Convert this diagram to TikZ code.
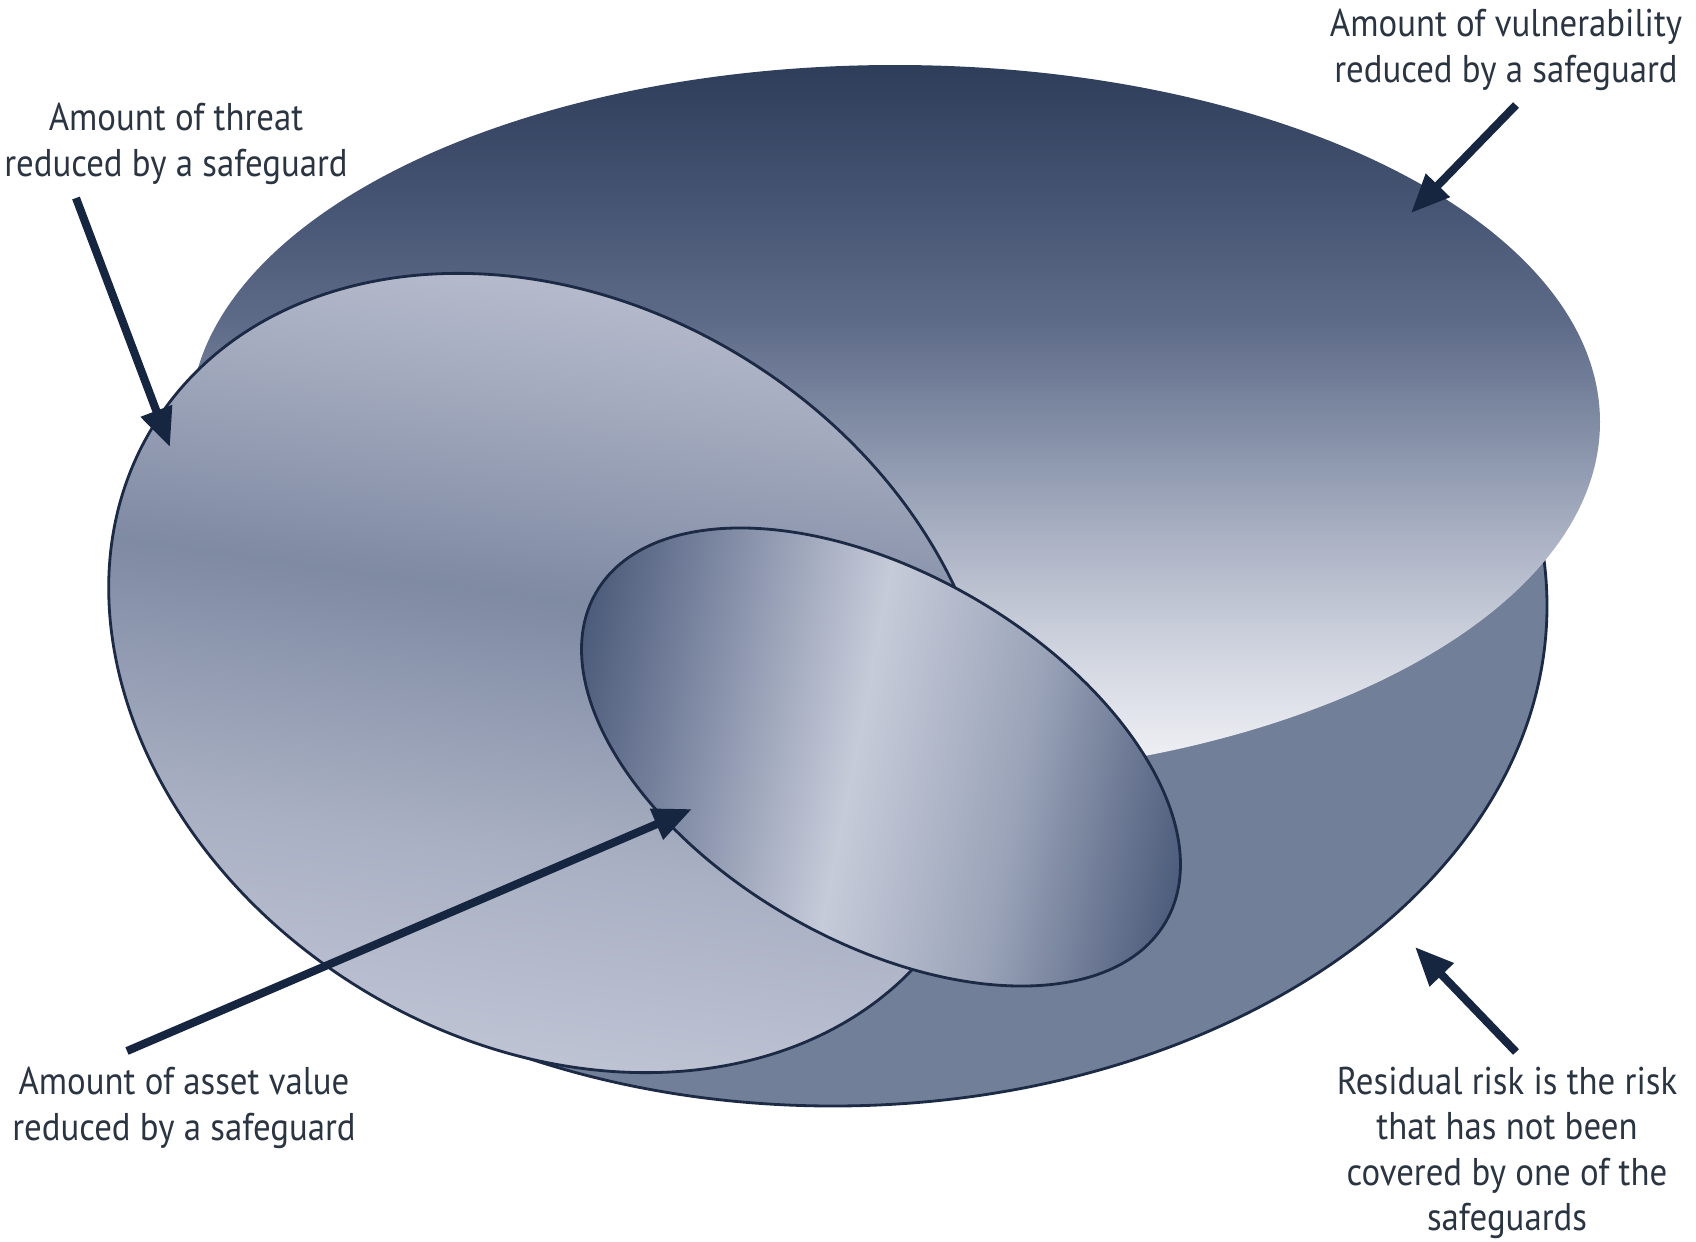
\documentclass[tikz,border=0pt]{standalone}
\usepackage{fontspec}
\setmainfont{PT Sans}[FakeStretch=0.9]
\usepackage{tikz}
\usetikzlibrary{arrows.meta}
\definecolor{labelgray}{RGB}{43,52,65}
\definecolor{arrownavy}{RGB}{22,37,64}
\definecolor{rimnavy}{RGB}{28,42,70}
\definecolor{residual}{RGB}{114,127,152}
% vulnerability disc, dark top to pale bottom
\definecolor{vula}{RGB}{244,245,248}
\definecolor{vulb}{RGB}{208,212,223}
\definecolor{vulc}{RGB}{170,177,195}
\definecolor{vuld}{RGB}{133,144,168}
\definecolor{vule}{RGB}{94,107,136}
\definecolor{vulf}{RGB}{74,88,119}
\definecolor{vulg}{RGB}{46,61,90}
% threat disc
\definecolor{thra}{RGB}{197,202,217}
\definecolor{thrb}{RGB}{169,176,195}
\definecolor{thrc}{RGB}{127,138,163}
\definecolor{thrd}{RGB}{163,170,190}
\definecolor{thre}{RGB}{192,197,212}
% asset disc
\definecolor{asta}{RGB}{75,90,121}
\definecolor{astb}{RGB}{122,133,160}
\definecolor{astc}{RGB}{198,203,217}
\definecolor{astd}{RGB}{154,163,184}
\definecolor{aste}{RGB}{76,91,123}
\pgfdeclareverticalshading{vulnshade}{100bp}{color(0bp)=(vula); color(25bp)=(vula);
  color(34bp)=(vulb); color(42bp)=(vulc); color(49bp)=(vuld); color(57bp)=(vule);
  color(64bp)=(vulf); color(75bp)=(vulg); color(100bp)=(vulg)}
\pgfdeclareverticalshading{threatshade}{100bp}{color(0bp)=(thra); color(25bp)=(thra);
  color(40bp)=(thrb); color(54bp)=(thrc); color(65bp)=(thrd); color(75bp)=(thre);
  color(100bp)=(thre)}
\pgfdeclarehorizontalshading{assetshade}{100bp}{color(0bp)=(asta); color(25bp)=(asta);
  color(34bp)=(astb); color(48bp)=(astc); color(61bp)=(astd); color(75bp)=(aste);
  color(100bp)=(aste)}

\begin{document}
\begin{tikzpicture}[x=0.01cm, y=-0.01cm,
  rim/.style = {draw=rimnavy, line width=0.8pt},
  pointer/.style = {-{Triangle[length=11pt,width=9pt]}, line width=2.3pt, arrownavy},
  note/.style = {align=center, text=labelgray, inner sep=0pt,
    font=\fontsize{11}{12.9}\selectfont}
]
  \useasboundingbox (0,0) rectangle (1696,1242);

  % whole risk (the dark part left over)
  \path[rim, fill=residual] (833,606) ellipse [x radius=714, y radius=500];
  % vulnerability
  \path[shade, shading=vulnshade] (895,422) ellipse [x radius=705, y radius=357];
  % threat
  \path[rim, shade, shading=threatshade, shading angle=-8] (552,673) ellipse [x radius=469, y radius=369, rotate=-32];
  % asset value
  \path[rim, shade, shading=assetshade, shading angle=-11] (881,757) ellipse [x radius=329, y radius=184, rotate=-30];

  \node[note] (thr) at (176,144)  {Amount of threat\\reduced by a safeguard};
  \node[note] (vul) at (1506,50)  {Amount of vulnerability\\reduced by a safeguard};
  \node[note] (ast) at (184,1108) {Amount of asset value\\reduced by a safeguard};
  \node[note] (res) at (1507,1153) {Residual risk is the risk\\that has not been\\covered by one of the\\safeguards};

  \coordinate (thrtail) at (76,198);   \coordinate (thrtip) at (170,447);
  \coordinate (vultail) at (1516,105); \coordinate (vultip) at (1411,213);
  \coordinate (asttail) at (127,1051); \coordinate (asttip) at (692,809);
  \coordinate (restail) at (1516,1052); \coordinate (restip) at (1415,947);

  \draw[pointer] (thrtail) -- (thrtip);
  \draw[pointer] (vultail) -- (vultip);
  \draw[pointer] (asttail) -- (asttip);
  \draw[pointer] (restail) -- (restip);
\end{tikzpicture}
\end{document}
